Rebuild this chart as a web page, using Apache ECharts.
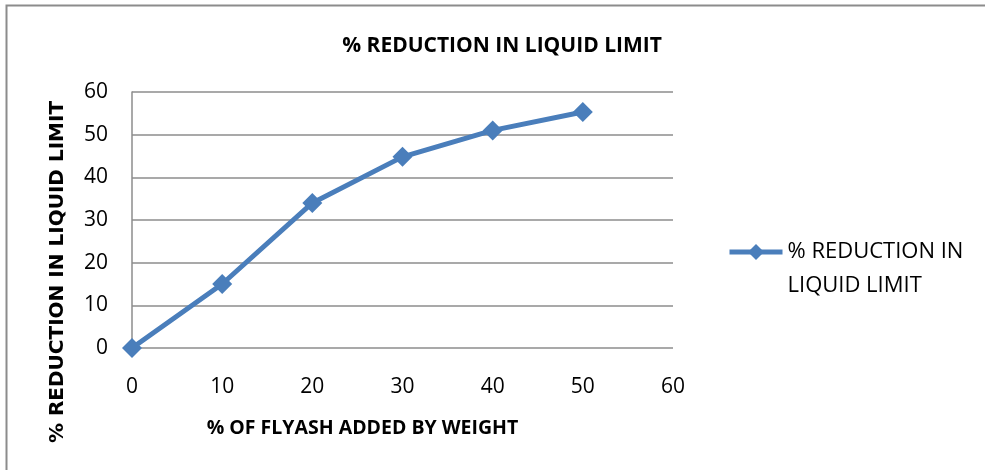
<!DOCTYPE html>
<html>
<head>
<meta charset="utf-8">
<script src="https://cdn.jsdelivr.net/npm/echarts@6/dist/echarts.min.js"></script>
<style>
html,body{margin:0;padding:0;background:#fff;}
#chart{width:985px;height:470px;}
</style>
</head>
<body>
<div id="chart"></div>
<script>
const chartTitle = '% REDUCTION IN LIQUID LIMIT';
const seriesName = '% REDUCTION IN LIQUID LIMIT';
const legendLines = ['% REDUCTION IN', 'LIQUID LIMIT'];
const xAxisTitle = '% OF FLYASH ADDED BY WEIGHT';
const yAxisTitle = '% REDUCTION IN LIQUID LIMIT';
const flyash = [0, 10, 20, 30, 40, 50];
const reduction = [0, 15, 34, 44.8, 51, 55.3];

const chart = echarts.init(document.getElementById('chart'));
const tickFont = {fontFamily: 'Open Sans', fontSize: 21, color: '#000'};
chart.setOption({
  animation: false,
  backgroundColor: '#fff',
  title: {
    text: chartTitle,
    left: 497, top: 31, textAlign: 'center',
    textStyle: {fontFamily: 'Open Sans', fontWeight: 'bold', fontSize: 21, color: '#000'}
  },
  graphic: [{
    type: 'rect', shape: {x: 6.5, y: 5.5, width: 1000, height: 500},
    style: {fill: 'none', stroke: '#8c8c8c', lineWidth: 2}, silent: true
  }],
  legend: {
    left: 722, top: 196,
    itemWidth: 53, itemHeight: 20, itemGap: 5,
    formatter: () => '\n' + legendLines.join('\n'),
    lineStyle: {width: 5},
    textStyle: {fontFamily: 'Open Sans', fontSize: 22, color: '#000', lineHeight: 34},
    data: [seriesName]
  },
  grid: {left: 132, right: 312, top: 92, bottom: 122},
  xAxis: {
    type: 'value', min: 0, max: 60, interval: 10,
    name: xAxisTitle, nameLocation: 'middle', nameGap: 70,
    nameTextStyle: {fontFamily: 'Open Sans', fontWeight: 'bold', fontSize: 19.5, color: '#000', padding: [0, 80, 0, 0]},
    axisLine: {show: false}, axisTick: {show: false},
    splitLine: {show: false},
    axisLabel: Object.assign({margin: 29}, tickFont)
  },
  yAxis: {
    type: 'value', min: 0, max: 60, interval: 10,
    name: yAxisTitle, nameLocation: 'middle', nameGap: 64, nameRotate: 90,
    nameTextStyle: {fontFamily: 'DejaVu Sans', fontWeight: 'bold', fontSize: 20, color: '#000', padding: [0, 104, 0, 0]},
    axisLine: {show: true, lineStyle: {color: '#8c8c8c', width: 1.5}},
    axisTick: {show: false},
    splitLine: {show: true, lineStyle: {color: '#8c8c8c', width: 1.5}},
    axisLabel: Object.assign({margin: 24}, tickFont)
  },
  series: [{
    name: seriesName, type: 'line',
    data: flyash.map((x, i) => [x, reduction[i]]),
    symbol: 'diamond', symbolSize: 20,
    lineStyle: {color: '#4a7ebb', width: 5},
    itemStyle: {color: '#4a7ebb'}
  }]
});
</script>
</body>
</html>
